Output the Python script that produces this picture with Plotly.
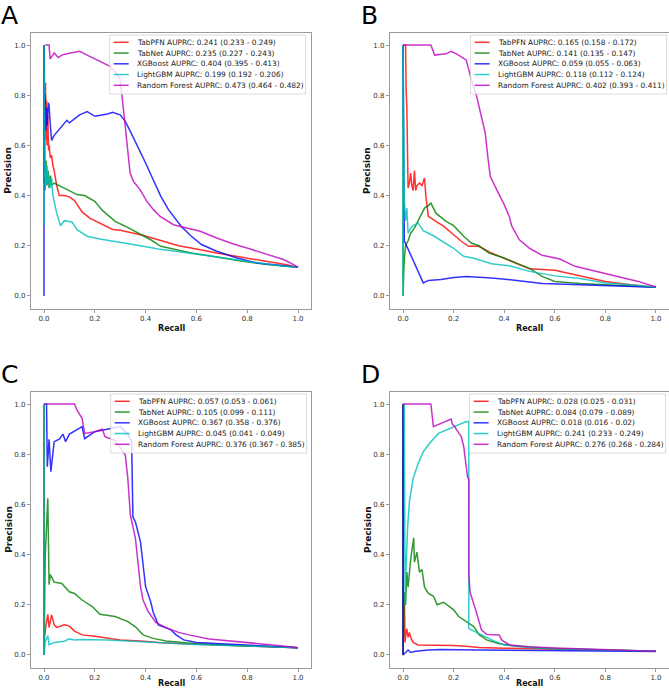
import plotly.graph_objects as go

# figure size in px
W, H = 669, 690

MODELS = ["TabPFN", "TabNet", "XGBoost", "LightGBM", "Random Forest"]
COLORS = ["#ff0000", "#008000", "#0000ff", "#00bfbf", "#bf00bf"]

# ---------------- Panel A ----------------
A_AUPRC = ["0.241 (0.233 - 0.249)", "0.235 (0.227 - 0.243)", "0.404 (0.395 - 0.413)",
           "0.199 (0.192 - 0.206)", "0.473 (0.464 - 0.482)"]
A_TABPFN_R = [0.0, 0.0, 0.003, 0.006, 0.008, 0.01, 0.012, 0.015, 0.018, 0.02, 0.025, 0.03, 0.035, 0.04,
              0.05, 0.06, 0.08, 0.1, 0.12, 0.15, 0.18, 0.23, 0.27, 0.3, 0.38, 0.45, 0.53, 0.6, 0.68,
              0.78, 0.88, 0.95, 1.0]
A_TABPFN_P = [0.45, 1.0, 0.75, 0.85, 0.62, 0.78, 0.6, 0.72, 0.58, 0.6, 0.55, 0.56, 0.52, 0.5,
              0.44, 0.40, 0.40, 0.395, 0.38, 0.335, 0.31, 0.285, 0.265, 0.262, 0.244, 0.224, 0.20, 0.187, 0.171,
              0.154, 0.138, 0.125, 0.114]
A_TABNET_R = [0.0, 0.0, 0.004, 0.008, 0.012, 0.016, 0.02, 0.025, 0.03, 0.04, 0.06, 0.08, 0.1, 0.13,
              0.16, 0.2, 0.23, 0.28, 0.32, 0.37, 0.42, 0.46, 0.5, 0.58, 0.68, 0.78, 0.88, 1.0]
A_TABNET_P = [0.45, 1.0, 0.42, 0.54, 0.44, 0.5, 0.43, 0.48, 0.44, 0.45, 0.44, 0.43, 0.42, 0.404,
              0.40, 0.377, 0.341, 0.297, 0.278, 0.25, 0.224, 0.198, 0.19, 0.171, 0.155, 0.138, 0.125, 0.114]
A_XGB_R = [0.0, 0.0, 0.0, 0.004, 0.007, 0.01, 0.013, 0.017, 0.02, 0.025, 0.03, 0.04, 0.06, 0.08, 0.09,
           0.1, 0.12, 0.14, 0.17, 0.2, 0.25, 0.27, 0.3, 0.32, 0.34, 0.37, 0.4, 0.43, 0.46, 0.49, 0.54,
           0.58, 0.62, 0.68, 0.76, 0.84, 0.92, 1.0]
A_XGB_P = [0.0, 1.0, 0.8, 0.8, 0.66, 0.75, 0.68, 0.77, 0.76, 0.68, 0.62, 0.64, 0.663, 0.69, 0.70,
           0.69, 0.705, 0.722, 0.735, 0.716, 0.725, 0.732, 0.722, 0.696, 0.656, 0.596, 0.53, 0.463, 0.397,
           0.344, 0.278, 0.238, 0.205, 0.178, 0.151, 0.131, 0.122, 0.114]
A_LGBM_R = [0.0, 0.0, 0.004, 0.008, 0.012, 0.016, 0.02, 0.025, 0.03, 0.035, 0.05, 0.065, 0.08, 0.11,
            0.13, 0.17, 0.22, 0.3, 0.38, 0.45, 0.55, 0.65, 0.75, 0.85, 0.93, 1.0]
A_LGBM_P = [0.28, 1.0, 0.5, 0.44, 0.52, 0.45, 0.48, 0.43, 0.47, 0.40, 0.33, 0.28, 0.30, 0.295,
            0.264, 0.238, 0.227, 0.215, 0.20, 0.187, 0.175, 0.16, 0.145, 0.131, 0.12, 0.114]
A_RF_R = [0.005, 0.02, 0.024, 0.04, 0.056, 0.07, 0.09, 0.11, 0.14, 0.17, 0.22, 0.26, 0.29, 0.30, 0.313,
          0.326, 0.339, 0.352, 0.378, 0.405, 0.431, 0.457, 0.51, 0.562, 0.615, 0.68, 0.746, 0.812, 0.878,
          0.943, 0.983, 1.0]
A_RF_P = [1.0, 1.0, 0.945, 0.968, 0.95, 0.96, 0.965, 0.97, 0.975, 0.96, 0.935, 0.915, 0.88, 0.862, 0.742,
          0.61, 0.49, 0.457, 0.424, 0.377, 0.344, 0.317, 0.284, 0.271, 0.258, 0.231, 0.207, 0.187, 0.165,
          0.145, 0.125, 0.114]

# ---------------- Panel B ----------------
B_AUPRC = ["0.165 (0.158 - 0.172)", "0.141 (0.135 - 0.147)", "0.059 (0.055 - 0.063)",
           "0.118 (0.112 - 0.124)", "0.402 (0.393 - 0.411)"]
B_TABPFN_R = [0.0, 0.01, 0.012, 0.015, 0.018, 0.02, 0.025, 0.03, 0.035, 0.04, 0.045, 0.05, 0.055,
              0.065, 0.075, 0.085, 0.09, 0.1, 0.13, 0.16, 0.2, 0.23, 0.26, 0.3, 0.35, 0.4, 0.45, 0.5, 0.6,
              0.7, 0.8, 0.9, 1.0]
B_TABPFN_P = [1.0, 1.0, 0.83, 0.75, 0.55, 0.43, 0.45, 0.49, 0.44, 0.42, 0.5, 0.42, 0.44,
              0.45, 0.44, 0.47, 0.40, 0.317, 0.297, 0.278, 0.244, 0.218, 0.198, 0.198, 0.171, 0.151, 0.13,
              0.108, 0.102, 0.081, 0.058, 0.045, 0.035]
B_TABNET_R = [0.0, 0.0, 0.003, 0.006, 0.01, 0.02, 0.03, 0.045, 0.06, 0.075, 0.085, 0.1, 0.11, 0.13,
              0.17, 0.2, 0.24, 0.27, 0.3, 0.34, 0.4, 0.45, 0.5, 0.55, 0.6, 0.7, 0.8, 0.9, 1.0]
B_TABNET_P = [1.0, 0.0, 0.10, 0.16, 0.20, 0.22, 0.25, 0.27, 0.30, 0.33, 0.35, 0.36, 0.37, 0.33,
              0.297, 0.28, 0.238, 0.211, 0.20, 0.171, 0.151, 0.13, 0.11, 0.078, 0.058, 0.05, 0.045, 0.04,
              0.035]
B_XGB_R = [0.0, 0.002, 0.005, 0.08, 0.1, 0.15, 0.2, 0.25, 0.35, 0.45, 0.55, 0.7, 0.85, 1.0]
B_XGB_P = [1.0, 0.4, 0.22, 0.052, 0.062, 0.066, 0.074, 0.078, 0.072, 0.062, 0.05, 0.045, 0.04, 0.035]
B_LGBM_R = [0.0, 0.0, 0.005, 0.01, 0.015, 0.02, 0.03, 0.04, 0.06, 0.08, 0.12, 0.15, 0.2, 0.24, 0.28,
            0.35, 0.42, 0.5, 0.6, 0.7, 0.8, 0.9, 1.0]
B_LGBM_P = [0.0, 1.0, 0.38, 0.30, 0.35, 0.25, 0.27, 0.28, 0.29, 0.26, 0.24, 0.22, 0.19, 0.158, 0.15,
            0.128, 0.12, 0.098, 0.08, 0.07, 0.052, 0.045, 0.035]
B_RF_R = [0.0, 0.11, 0.125, 0.17, 0.19, 0.22, 0.25, 0.26, 0.27, 0.29, 0.31, 0.325, 0.335, 0.345, 0.37,
          0.4, 0.42, 0.43, 0.46, 0.5, 0.55, 0.62, 0.68, 0.75, 0.85, 0.93, 1.0]
B_RF_P = [1.0, 1.0, 0.96, 0.965, 0.975, 0.96, 0.94, 0.895, 0.862, 0.80, 0.716, 0.649, 0.556, 0.477, 0.424,
          0.364, 0.317, 0.278, 0.224, 0.19, 0.162, 0.147, 0.118, 0.102, 0.078, 0.058, 0.036]

# ---------------- Panel C ----------------
C_AUPRC = ["0.057 (0.053 - 0.061)", "0.105 (0.099 - 0.111)", "0.367 (0.358 - 0.376)",
           "0.045 (0.041 - 0.049)", "0.376 (0.367 - 0.385)"]
C_TABPFN_R = [0.0, 0.0, 0.002, 0.008, 0.015, 0.02, 0.03, 0.04, 0.05, 0.08, 0.1, 0.12, 0.15, 0.2, 0.25,
              0.3, 0.38, 0.45, 0.55, 0.7, 0.85, 1.0]
C_TABPFN_P = [1.0, 0.0, 0.07, 0.12, 0.162, 0.11, 0.16, 0.12, 0.11, 0.12, 0.115, 0.095, 0.08, 0.075, 0.066,
              0.06, 0.056, 0.05, 0.045, 0.04, 0.035, 0.029]
C_TABNET_R = [0.0, 0.0, 0.005, 0.01, 0.015, 0.02, 0.025, 0.04, 0.07, 0.1, 0.12, 0.15, 0.19, 0.22, 0.28,
              0.33, 0.36, 0.39, 0.43, 0.48, 0.6, 0.7, 0.85, 1.0]
C_TABNET_P = [1.0, 0.0, 0.40, 0.50, 0.624, 0.28, 0.32, 0.29, 0.285, 0.252, 0.245, 0.219, 0.193, 0.162, 0.153,
              0.133, 0.112, 0.08, 0.066, 0.056, 0.045, 0.04, 0.035, 0.029]
C_XGB_R = [0.0, 0.01, 0.013, 0.02, 0.027, 0.04, 0.06, 0.075, 0.085, 0.1, 0.15, 0.16, 0.2, 0.25, 0.3,
           0.33, 0.345, 0.35, 0.36, 0.38, 0.39, 0.4, 0.42, 0.43, 0.45, 0.5, 0.52, 0.55, 0.6, 0.7, 0.8,
           0.9, 1.0]
C_XGB_P = [1.0, 1.0, 0.75, 0.859, 0.73, 0.85, 0.86, 0.88, 0.85, 0.88, 0.91, 0.862, 0.89, 0.90, 0.91,
           0.88, 0.85, 0.55, 0.53, 0.45, 0.36, 0.272, 0.212, 0.17, 0.12, 0.10, 0.08, 0.06, 0.05, 0.045,
           0.04, 0.035, 0.029]
C_LGBM_R = [0.0, 0.0, 0.005, 0.015, 0.02, 0.04, 0.08, 0.1, 0.12, 0.15, 0.25, 0.35, 0.45, 0.6, 0.75,
            0.9, 1.0]
C_LGBM_P = [1.0, 0.0, 0.053, 0.076, 0.04, 0.05, 0.055, 0.064, 0.06, 0.062, 0.06, 0.055, 0.048, 0.042,
            0.037, 0.033, 0.029]
C_RF_R = [0.005, 0.12, 0.13, 0.15, 0.16, 0.2, 0.23, 0.24, 0.28, 0.32, 0.33, 0.34, 0.36, 0.37, 0.38,
          0.39, 0.41, 0.44, 0.48, 0.53, 0.57, 0.65, 0.75, 0.85, 0.95, 1.0]
C_RF_P = [1.0, 1.0, 0.976, 0.943, 0.883, 0.89, 0.90, 0.87, 0.855, 0.797, 0.704, 0.558, 0.465, 0.359, 0.272,
          0.219, 0.173, 0.13, 0.109, 0.09, 0.08, 0.064, 0.055, 0.046, 0.035, 0.029]

# ---------------- Panel D ----------------
D_AUPRC = ["0.028 (0.025 - 0.031)", "0.084 (0.079 - 0.089)", "0.018 (0.016 - 0.02)",
           "0.241 (0.233 - 0.249)", "0.276 (0.268 - 0.284)"]
D_TABPFN_R = [0.0, 0.0, 0.005, 0.008, 0.012, 0.015, 0.02, 0.025, 0.03, 0.035, 0.04, 0.06, 0.1, 0.2,
              0.25, 0.3, 0.4, 0.5, 0.6, 0.75, 0.9, 1.0]
D_TABPFN_P = [1.0, 0.0, 0.25, 0.05, 0.09, 0.104, 0.07, 0.09, 0.07, 0.06, 0.05, 0.04, 0.04, 0.038,
              0.035, 0.03, 0.027, 0.025, 0.022, 0.02, 0.017, 0.015]
D_TABNET_R = [0.0, 0.0, 0.005, 0.01, 0.015, 0.02, 0.03, 0.042, 0.045, 0.055, 0.065, 0.075, 0.085, 0.1,
              0.12, 0.135, 0.16, 0.2, 0.22, 0.25, 0.28, 0.3, 0.33, 0.38, 0.45, 0.55, 0.7, 0.85, 1.0]
D_TABNET_P = [1.0, 0.0, 0.25, 0.199, 0.33, 0.27, 0.38, 0.467, 0.37, 0.41, 0.33, 0.34, 0.27, 0.245,
              0.235, 0.20, 0.21, 0.18, 0.153, 0.133, 0.113, 0.082, 0.06, 0.045, 0.035, 0.027, 0.022, 0.018,
              0.015]
D_XGB_R = [0.0, 0.0, 0.005, 0.02, 0.03, 0.05, 0.1, 0.15, 0.3, 0.5, 0.7, 1.0]
D_XGB_P = [1.0, 0.0, 0.005, 0.02, 0.01, 0.015, 0.02, 0.022, 0.02, 0.018, 0.016, 0.014]
D_LGBM_R = [0.0, 0.005, 0.008, 0.01, 0.018, 0.025, 0.04, 0.06, 0.08, 0.11, 0.14, 0.18, 0.22, 0.25, 0.26,
            0.26, 0.27, 0.3, 0.35, 0.4, 0.5, 0.6, 0.8, 1.0]
D_LGBM_P = [1.0, 1.0, 0.2, 0.305, 0.505, 0.61, 0.704, 0.764, 0.81, 0.85, 0.883, 0.90, 0.92, 0.93, 0.93,
            0.106, 0.10, 0.084, 0.06, 0.04, 0.03, 0.025, 0.02, 0.015]
D_RF_R = [0.0, 0.11, 0.12, 0.19, 0.195, 0.205, 0.21, 0.23, 0.24, 0.255, 0.26, 0.26, 0.265, 0.28, 0.29,
          0.31, 0.33, 0.38, 0.39, 0.42, 0.5, 0.6, 0.7, 0.8, 0.9, 1.0]
D_RF_P = [1.0, 1.0, 0.91, 0.94, 0.92, 0.91, 0.90, 0.87, 0.83, 0.71, 0.70, 0.32, 0.25, 0.206, 0.17,
          0.10, 0.082, 0.08, 0.06, 0.04, 0.033, 0.028, 0.025, 0.022, 0.019, 0.015]

TICKS = [0.0, 0.2, 0.4, 0.6, 0.8, 1.0]

# panel letter, curves, legend values, axes box in px (left, right, top, bottom), legend gap to right spine
panels = [
    ("A", [(A_TABPFN_R, A_TABPFN_P), (A_TABNET_R, A_TABNET_P), (A_XGB_R, A_XGB_P),
           (A_LGBM_R, A_LGBM_P), (A_RF_R, A_RF_P)], A_AUPRC, (31.3, 310.7, 32.5, 308.5), 5),
    ("B", [(B_TABPFN_R, B_TABPFN_P), (B_TABNET_R, B_TABNET_P), (B_XGB_R, B_XGB_P),
           (B_LGBM_R, B_LGBM_P), (B_RF_R, B_RF_P)], B_AUPRC, (390.4, 668.6, 32.5, 308.5), 2),
    ("C", [(C_TABPFN_R, C_TABPFN_P), (C_TABNET_R, C_TABNET_P), (C_XGB_R, C_XGB_P),
           (C_LGBM_R, C_LGBM_P), (C_RF_R, C_RF_P)], C_AUPRC, (31.3, 310.7, 391.5, 667.5), 4),
    ("D", [(D_TABPFN_R, D_TABPFN_P), (D_TABNET_R, D_TABNET_P), (D_XGB_R, D_XGB_P),
           (D_LGBM_R, D_LGBM_P), (D_RF_R, D_RF_P)], D_AUPRC, (390.4, 668.6, 391.5, 667.5), 3),
]


def px(x):
    return x / W


def py(y):
    return 1 - y / H


fig = go.Figure()
annotations = []
shapes = []
FONT = "DejaVu Sans"

for i, (letter, curves, auprc, box, gap) in enumerate(panels):
    n = "" if i == 0 else str(i + 1)
    left, right, top, bottom = box

    for (r, p), name, col in zip(curves, MODELS, COLORS):
        fig.add_trace(go.Scatter(x=r, y=p, mode="lines", name=name, showlegend=False,
                                 line=dict(color=col, width=1.5), opacity=0.8,
                                 xaxis="x" + n, yaxis="y" + n))

    axis_style = dict(range=[-0.05, 1.05], tickvals=TICKS, tickformat=".1f",
                      showgrid=False, zeroline=False, showline=True, mirror=True,
                      linecolor="#9a9a9a", linewidth=1, ticks="outside", ticklen=3.5,
                      tickwidth=0.8, tickcolor="#9a9a9a",
                      tickfont=dict(family=FONT, size=7, color="#333333"))
    fig.update_layout(**{
        "xaxis" + n: dict(domain=[px(left), px(right)], anchor="y" + n, **axis_style),
        "yaxis" + n: dict(domain=[py(bottom), py(top)], anchor="x" + n, **axis_style),
    })

    # axis titles (bottom row kept just inside the page)
    annotations.append(dict(text="<b>Recall</b>", x=px((left + right) / 2), y=py(min(bottom + 20, H - 7)),
                            xref="paper", yref="paper", showarrow=False,
                            xanchor="center", yanchor="middle",
                            font=dict(family=FONT, size=8, color="#111")))
    annotations.append(dict(text="<b>Precision</b>", x=px(left - 23), y=py((top + bottom) / 2),
                            xref="paper", yref="paper", showarrow=False, textangle=-90,
                            xanchor="center", yanchor="middle",
                            font=dict(family=FONT, size=9, color="#111")))
    # panel letter
    annotations.append(dict(text=letter, x=px(left - 32 if i % 2 == 0 else left - 31), y=py(top - 17),
                            xref="paper", yref="paper", showarrow=False,
                            xanchor="left", yanchor="middle",
                            font=dict(family=FONT, size=25, color="#000")))

    # legend box (upper right)
    lg_right = right - gap
    lg_left = lg_right - 196
    shapes.append(dict(type="rect", xref="paper", yref="paper",
                       x0=px(lg_left), x1=px(lg_right), y0=py(top + 2.5), y1=py(top + 61.5),
                       line=dict(color="#d0d0d0", width=0.8), fillcolor="rgba(255,255,255,0.8)",
                       layer="above"))
    for k, (name, col) in enumerate(zip(MODELS, COLORS)):
        yy = top + 9.8 + k * 10.75
        shapes.append(dict(type="line", xref="paper", yref="paper",
                           x0=px(lg_left + 4), x1=px(lg_left + 19), y0=py(yy), y1=py(yy),
                           line=dict(color=col, width=1.5), opacity=0.8, layer="above"))
        annotations.append(dict(text=f"{name} AUPRC: {auprc[k]}", x=px(lg_left + 25), y=py(yy),
                                xref="paper", yref="paper", showarrow=False, xanchor="left",
                                yanchor="middle", font=dict(family=FONT, size=7.4, color="#1a1a1a")))

fig.update_layout(width=W, height=H, margin=dict(l=0, r=0, t=0, b=0),
                  paper_bgcolor="white", plot_bgcolor="white",
                  annotations=annotations, shapes=shapes, showlegend=False)

# drop the default page margin so the figure sits at the window's top-left corner
fig.write_html("out.html", config={"displayModeBar": False},
               post_script="document.body.style.margin='0';"
                           "document.body.style.overflow='hidden';")
